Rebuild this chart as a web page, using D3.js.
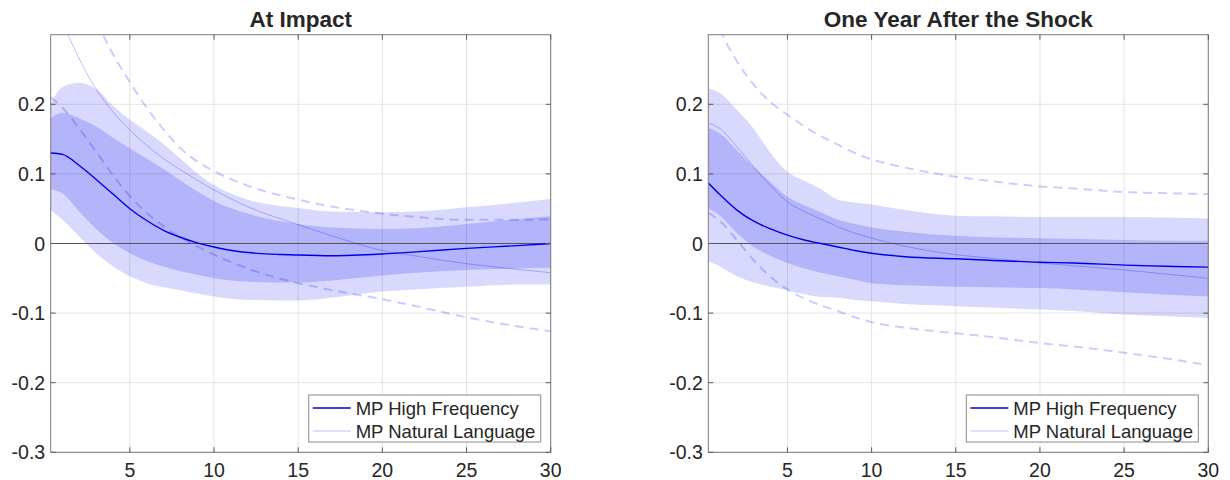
<!DOCTYPE html>
<html>
<head>
<meta charset="utf-8">
<script src="https://cdn.jsdelivr.net/npm/d3@7"></script>
<style>
    body { margin: 0; background: #fff; }
    text { font-family: "Liberation Sans", Arial, Helvetica, sans-serif; fill: #262626; }
</style>
</head>
<body>
<svg id="chart" width="1230" height="480"></svg>
<script>
// horizons (x values) shared by every series
const horizons = [0.3, 1, 2, 3, 4, 5, 6, 7, 8, 9, 10, 12, 15, 17, 20, 22, 25, 28, 30];

const titles = ['At Impact', 'One Year After the Shock'];
const legendLabels = ['MP High Frequency', 'MP Natural Language'];
const xTicks = [5, 10, 15, 20, 25, 30];
const yTicks = [-0.3, -0.2, -0.1, 0, 0.1, 0.2];

// At Impact
const hfMeanImpact = [0.130, 0.128, 0.112, 0.092, 0.071, 0.050, 0.033, 0.019, 0.009, 0.001, -0.005, -0.013, -0.0165, -0.0175, -0.015, -0.012, -0.007, -0.003, 0.0];
const hf68HiImpact = [0.180, 0.188, 0.180, 0.168, 0.152, 0.137, 0.122, 0.107, 0.091, 0.075, 0.061, 0.043, 0.028, 0.023, 0.021, 0.022, 0.028, 0.035, 0.039];
const hf68LoImpact = [0.078, 0.072, 0.046, 0.021, 0.001, -0.014, -0.025, -0.033, -0.040, -0.045, -0.050, -0.055, -0.056, -0.053, -0.046, -0.042, -0.038, -0.036, -0.035];
const hf90HiImpact = [0.201, 0.225, 0.231, 0.222, 0.198, 0.178, 0.161, 0.143, 0.122, 0.101, 0.084, 0.063, 0.051, 0.046, 0.045, 0.046, 0.052, 0.059, 0.064];
const hf90LoImpact = [0.048, 0.034, 0.010, -0.014, -0.033, -0.047, -0.057, -0.063, -0.067, -0.072, -0.076, -0.081, -0.082, -0.078, -0.069, -0.066, -0.062, -0.059, -0.059];
const nlMeanImpact = [0.37, 0.32, 0.265, 0.222, 0.189, 0.163, 0.141, 0.122, 0.106, 0.091, 0.077, 0.053, 0.027, 0.011, -0.010, -0.018, -0.029, -0.037, -0.042];
const nlHiImpact = [0.50, 0.43, 0.37, 0.32, 0.272, 0.232, 0.195, 0.164, 0.137, 0.118, 0.104, 0.083, 0.063, 0.053, 0.043, 0.038, 0.034, 0.034, 0.035];
const nlLoImpact = [0.210, 0.195, 0.165, 0.132, 0.098, 0.068, 0.044, 0.025, 0.009, -0.004, -0.016, -0.036, -0.057, -0.067, -0.080, -0.090, -0.106, -0.119, -0.126];

// One Year After the Shock
const hfMeanYear = [0.087, 0.070, 0.048, 0.032, 0.021, 0.012, 0.005, 0.000, -0.005, -0.010, -0.014, -0.019, -0.022, -0.024, -0.027, -0.028, -0.031, -0.033, -0.034];
const hf68HiYear = [0.166, 0.158, 0.134, 0.110, 0.088, 0.067, 0.055, 0.045, 0.034, 0.028, 0.023, 0.017, 0.011, 0.009, 0.0077, 0.007, 0.005, 0.004, 0.004];
const hf68LoYear = [0.051, 0.040, 0.015, -0.005, -0.018, -0.028, -0.036, -0.042, -0.047, -0.052, -0.057, -0.060, -0.062, -0.063, -0.064, -0.066, -0.070, -0.074, -0.076];
const hf90HiYear = [0.223, 0.216, 0.192, 0.165, 0.130, 0.103, 0.090, 0.078, 0.063, 0.059, 0.056, 0.048, 0.040, 0.039, 0.038, 0.038, 0.038, 0.037, 0.036];
const hf90LoYear = [-0.026, -0.033, -0.047, -0.056, -0.062, -0.067, -0.073, -0.077, -0.078, -0.081, -0.083, -0.087, -0.090, -0.092, -0.095, -0.097, -0.102, -0.105, -0.107];
const nlMeanYear = [0.173, 0.165, 0.139, 0.110, 0.083, 0.060, 0.046, 0.035, 0.024, 0.015, 0.0077, -0.004, -0.016, -0.021, -0.028, -0.032, -0.038, -0.045, -0.050];
const nlHiYear = [0.37, 0.31, 0.262, 0.228, 0.203, 0.185, 0.168, 0.154, 0.142, 0.130, 0.121, 0.109, 0.096, 0.090, 0.082, 0.079, 0.074, 0.072, 0.071];
const nlLoYear = [0.044, 0.032, 0.005, -0.024, -0.048, -0.066, -0.079, -0.089, -0.097, -0.106, -0.113, -0.121, -0.129, -0.134, -0.143, -0.148, -0.157, -0.167, -0.175];

const panels = [
    { title: titles[0], hfMean: hfMeanImpact, hf68: [hf68LoImpact, hf68HiImpact], hf90: [hf90LoImpact, hf90HiImpact],
      nlMean: nlMeanImpact, nlBands: [nlLoImpact, nlHiImpact] },
    { title: titles[1], hfMean: hfMeanYear, hf68: [hf68LoYear, hf68HiYear], hf90: [hf90LoYear, hf90HiYear],
      nlMean: nlMeanYear, nlBands: [nlLoYear, nlHiYear] }
];

var config = {
    top: 34.7,
    bottom: 452.3,
    lefts: [50.7, 708.3],
    width: 500,
    tickLen: 5
}

const svg = d3.select('#chart');

function toPoints(values){
    return horizons.map(function(h, i){ return [h, values[i]]; });
}

function tickText(v){
    // matlab style: plain hyphen, no trailing zeros
    return String(+v.toFixed(1));
}

function drawPanel(d, i){
    let g = d3.select(this);
    let left = config.lefts[i];
    let x = d3.scaleLinear().domain([0.3, 30]).range([left, left + config.width]);
    let y = d3.scaleLinear().domain([-0.3, 0.3]).range([config.bottom, config.top]);

    let clipId = 'clip' + i;
    g.append('clipPath')
        .attr('id', clipId)
        .append('rect')
        .attr('x', left)
        .attr('y', config.top)
        .attr('width', config.width)
        .attr('height', config.bottom - config.top);

    // grid
    g.append('g')
        .selectAll('line.vgrid')
        .data(xTicks)
        .join('line')
        .attr('x1', function(t){ return x(t) })
        .attr('x2', function(t){ return x(t) })
        .attr('y1', config.top)
        .attr('y2', config.bottom)
        .attr('stroke', '#e4e4e4');
    g.append('g')
        .selectAll('line.hgrid')
        .data(yTicks)
        .join('line')
        .attr('x1', left)
        .attr('x2', left + config.width)
        .attr('y1', function(t){ return y(t) })
        .attr('y2', function(t){ return y(t) })
        .attr('stroke', '#e4e4e4');

    let data = g.append('g').attr('clip-path', 'url(#' + clipId + ')');

    let area = d3.area()
        .curve(d3.curveMonotoneX)
        .x(function(p){ return x(p[0]) })
        .y0(function(p){ return y(p[1]) })
        .y1(function(p){ return y(p[2]) });
    let line = d3.line()
        .curve(d3.curveMonotoneX)
        .x(function(p){ return x(p[0]) })
        .y(function(p){ return y(p[1]) });

    let bands = [[d.hf90, 0.15], [d.hf68, 0.17]];
    data.selectAll('path.band')
        .data(bands)
        .join('path')
        .attr('class', 'band')
        .attr('d', function(b){
            return area(horizons.map(function(h, k){ return [h, b[0][0][k], b[0][1][k]]; }));
        })
        .attr('fill', '#0000f4')
        .attr('fill-opacity', function(b){ return b[1] });

    // zero line
    data.append('line')
        .attr('x1', left)
        .attr('x2', left + config.width)
        .attr('y1', y(0))
        .attr('y2', y(0))
        .attr('stroke', '#555')
        .attr('stroke-width', 1);

    data.selectAll('path.nlband')
        .data(d.nlBands)
        .join('path')
        .attr('class', 'nlband')
        .attr('d', function(v){ return line(toPoints(v)) })
        .attr('fill', 'none')
        .attr('stroke', 'rgba(0,0,255,0.2)')
        .attr('stroke-width', 2)
        .attr('stroke-dasharray', '9,6');

    data.append('path')
        .attr('d', line(toPoints(d.nlMean)))
        .attr('fill', 'none')
        .attr('stroke', 'rgba(0,0,255,0.25)')
        .attr('stroke-width', 1);

    data.append('path')
        .attr('d', line(toPoints(d.hfMean)))
        .attr('fill', 'none')
        .attr('stroke', '#0000e8')
        .attr('stroke-width', 1.4);

    // box and ticks
    g.append('rect')
        .attr('x', left)
        .attr('y', config.top)
        .attr('width', config.width)
        .attr('height', config.bottom - config.top)
        .attr('fill', 'none')
        .attr('stroke', '#7a7a7a');

    let tl = config.tickLen;
    let ticks = g.append('g').attr('stroke', '#5a5a5a');
    xTicks.forEach(function(t){
        ticks.append('line').attr('x1', x(t)).attr('x2', x(t)).attr('y1', config.bottom).attr('y2', config.bottom - tl);
        ticks.append('line').attr('x1', x(t)).attr('x2', x(t)).attr('y1', config.top).attr('y2', config.top + tl);
    });
    yTicks.forEach(function(t){
        ticks.append('line').attr('x1', left).attr('x2', left + tl).attr('y1', y(t)).attr('y2', y(t));
        ticks.append('line').attr('x1', left + config.width).attr('x2', left + config.width - tl).attr('y1', y(t)).attr('y2', y(t));
    });

    g.selectAll('text.xlab')
        .data(xTicks)
        .join('text')
        .attr('class', 'xlab')
        .attr('x', function(t){ return x(t) })
        .attr('y', config.bottom + 24.5)
        .attr('text-anchor', 'middle')
        .style('font-size', '19.5px')
        .text(function(t){ return t });

    g.selectAll('text.ylab')
        .data(yTicks)
        .join('text')
        .attr('class', 'ylab')
        .attr('x', left - 5.5)
        .attr('y', function(t){ return y(t) + 7 })
        .attr('text-anchor', 'end')
        .style('font-size', '19.5px')
        .text(tickText);

    g.append('text')
        .attr('x', left + config.width / 2)
        .attr('y', 27)
        .attr('text-anchor', 'middle')
        .style('font-size', '22.5px')
        .style('font-weight', 'bold')
        .text(d.title);

    // legend
    let lg = g.append('g')
        .attr('transform', 'translate(' + (left + config.width - 242) + ',395)');
    lg.append('rect')
        .attr('width', 232)
        .attr('height', 47)
        .attr('fill', '#fff')
        .attr('stroke', '#8a8a8a');
    let styles = [['#0000e8', 1.5], ['rgba(0,0,255,0.25)', 1]];
    lg.selectAll('g.item')
        .data(legendLabels)
        .join('g')
        .attr('class', 'item')
        .attr('transform', function(l, k){ return 'translate(0,' + (13 + k * 23) + ')' })
        .each(function(l, k){
            let item = d3.select(this);
            item.append('line')
                .attr('x1', 4)
                .attr('x2', 42)
                .attr('stroke', styles[k][0])
                .attr('stroke-width', styles[k][1]);
            item.append('text')
                .attr('x', 47)
                .attr('y', 6.5)
                .style('font-size', '18.5px')
                .text(l);
        });
}

svg.selectAll('g.panel')
    .data(panels)
    .join('g')
    .attr('class', 'panel')
    .each(drawPanel);
</script>
</body>
</html>
